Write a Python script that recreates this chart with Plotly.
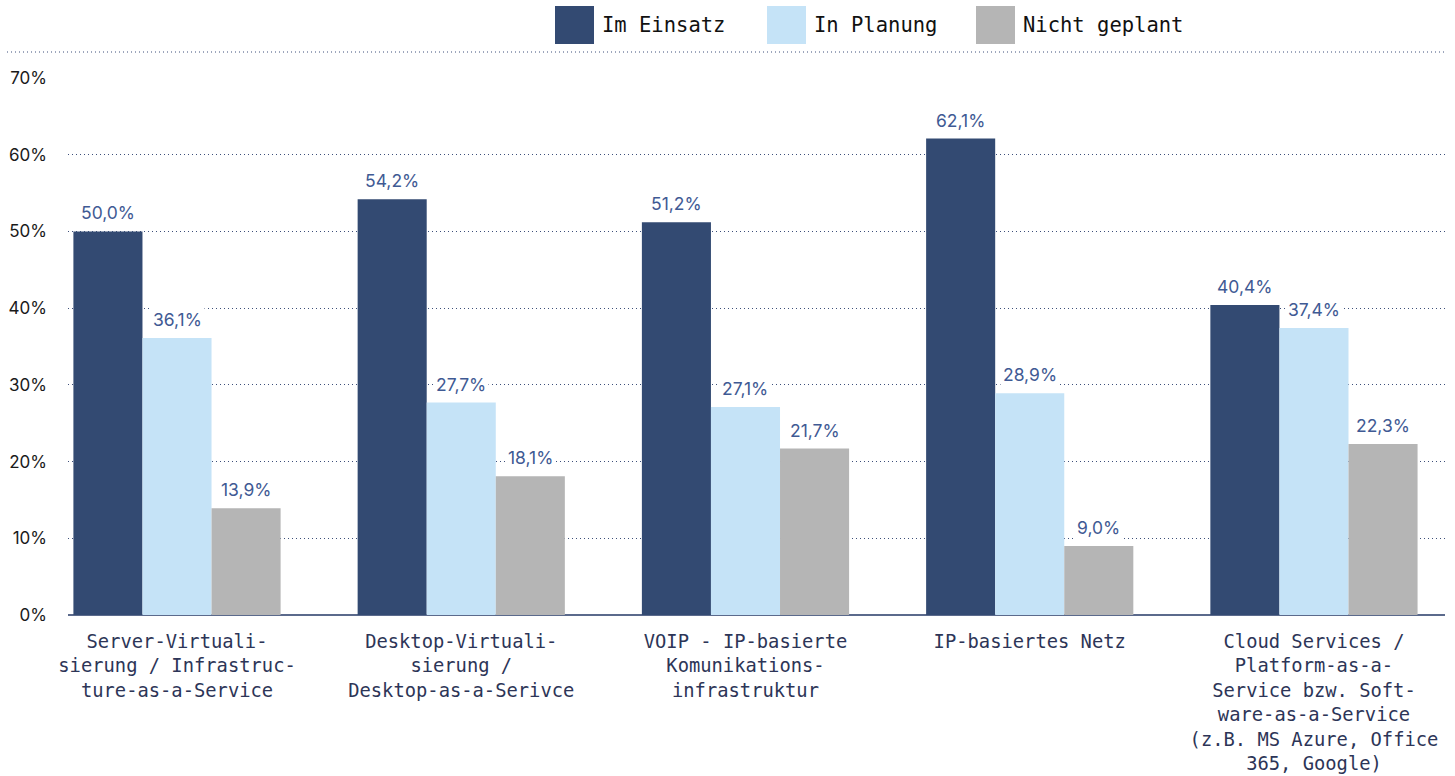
import plotly.graph_objects as go

# ---- data ----
categories = [
    "Server-Virtualisierung / Infrastructure-as-a-Service",
    "Desktop-Virtualisierung / Desktop-as-a-Serivce",
    "VOIP - IP-basierte Komunikationsinfrastruktur",
    "IP-basiertes Netz",
    "Cloud Services / Platform-as-a-Service bzw. Software-as-a-Service (z.B. MS Azure, Office 365, Google)",
]
tick_labels = [
    "Server-Virtuali-<br>sierung / Infrastruc-<br>ture-as-a-Service",
    "Desktop-Virtuali-<br>sierung /<br>Desktop-as-a-Serivce",
    "VOIP - IP-basierte<br>Komunikations-<br>infrastruktur",
    "IP-basiertes Netz",
    "Cloud Services /<br>Platform-as-a-<br>Service bzw. Soft-<br>ware-as-a-Service<br>(z.B. MS Azure, Office<br>365, Google)",
]
series_names = ["Im Einsatz", "In Planung", "Nicht geplant"]
im_einsatz = [50.0, 54.2, 51.2, 62.1, 40.4]
in_planung = [36.1, 27.7, 27.1, 28.9, 37.4]
nicht_geplant = [13.9, 18.1, 21.7, 9.0, 22.3]
series_values = [im_einsatz, in_planung, nicht_geplant]
colors = ["#334a72", "#c5e3f7", "#b5b5b5"]
y_ticks = [0, 10, 20, 30, 40, 50, 60, 70]

# ---- layout geometry ----
W, H = 1455, 776
ML, MR, MT, MB = 68, 10, 78, 161
PW, PH = W - ML - MR, H - MT - MB
BARGAP = 0.271
GRID = "#3d4f7a"
DOT = "1px,3px"


def px_x(px):
    return (px - ML) / PW


def px_y(py):
    return (H - MB - py) / PH


xs = list(range(len(categories)))
fig = go.Figure()
for name, vals, col in zip(series_names, series_values, colors):
    fig.add_trace(go.Bar(x=xs, y=vals, name=name, marker=dict(color=col, line=dict(width=0)),
                         showlegend=False, hoverinfo="skip"))

# value labels with white background
bw = (1 - BARGAP) / len(series_names)
annotations = []
for i, vals in enumerate(series_values):
    off = (i - (len(series_names) - 1) / 2) * bw
    for j, v in enumerate(vals):
        annotations.append(dict(
            x=j + off, y=v, xref="x", yref="y",
            text=f"{v:.1f}%".replace(".", ","),
            showarrow=False, yanchor="bottom", yshift=5,
            font=dict(family="Inter, DejaVu Sans, sans-serif", size=17.5, color="#3f5a94"),
            bgcolor="white", borderpad=2,
        ))

# legend built from shapes and text
shapes = []
legend_sq = [555, 767, 976]
for name, col, x0 in zip(series_names, colors, legend_sq):
    shapes.append(dict(type="rect", xref="paper", yref="paper",
                       x0=px_x(x0), x1=px_x(x0 + 39), y0=px_y(44), y1=px_y(6),
                       fillcolor=col, line=dict(width=0)))
    annotations.append(dict(x=px_x(x0 + 45), y=px_y(25), xref="paper", yref="paper",
                            text=name, showarrow=False, xanchor="left", yanchor="middle",
                            font=dict(family="DejaVu Sans Mono, monospace", size=20.5, color="#111111")))

# top dotted separator line
shapes.append(dict(type="line", xref="paper", yref="paper",
                   x0=px_x(7), x1=px_x(1447), y0=px_y(52), y1=px_y(52),
                   line=dict(color=GRID, width=1, dash=DOT)))

fig.update_layout(
    width=W, height=H,
    margin=dict(l=ML, r=MR, t=MT, b=MB),
    barmode="group", bargap=BARGAP, bargroupgap=0,
    plot_bgcolor="white", paper_bgcolor="white",
    annotations=annotations, shapes=shapes,
    showlegend=False,
    xaxis=dict(
        range=[-0.3835, 4.461], tickmode="array", tickvals=xs, ticktext=tick_labels,
        showgrid=False, zeroline=False, ticks="", ticklabelstandoff=13,
        showline=False, automargin=False,
        tickfont=dict(family="DejaVu Sans Mono, monospace", size=18.8, color="#2d3557"),
    ),
    yaxis=dict(
        range=[0, 70], tickmode="array", tickvals=y_ticks,
        ticktext=[f"{t}%" for t in y_ticks],
        showgrid=True, gridcolor=GRID, gridwidth=1, griddash=DOT,
        zeroline=True, zerolinecolor="#5b6a8c", zerolinewidth=2,
        layer="above traces", ticks="", ticklabelstandoff=20, automargin=False,
        tickfont=dict(family="Inter, DejaVu Sans, sans-serif", size=17, color="#1a1a1a"),
    ),
)

fig.write_html("out.html")
